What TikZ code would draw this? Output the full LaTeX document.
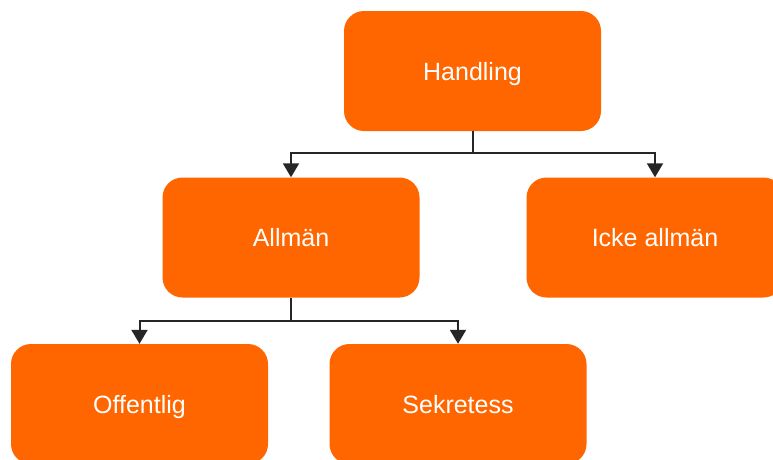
\documentclass[tikz,border=0pt]{standalone}
\usepackage{fontspec}
\setmainfont{Liberation Sans}
\usetikzlibrary{arrows.meta}
\definecolor{boxorange}{HTML}{FF6600}
\tikzset{
  orgbox/.style={rectangle, rounded corners=20pt, fill=boxorange, draw=none,
    minimum width=257pt, minimum height=120pt, inner sep=0pt,
    text height=18pt, text depth=0pt,
    text=white, font=\fontsize{25}{30}\selectfont},
  conn/.style={line width=2pt, draw=black!85, -{Triangle[width=16pt,length=14pt]}}
}
\begin{document}
\begin{tikzpicture}[x=1pt,y=-1pt]
\useasboundingbox (0,0) rectangle (773,459);
\node[orgbox] (hand) at (472.5,71) {Handling};
\node[orgbox] (allm) at (291,237.5) {Allmän};
\node[orgbox] (icke) at (655,237.5) {Icke allmän};
\node[orgbox] (off) at (139.5,404) {Offentlig};
\node[orgbox] (sek) at (458,404) {Sekretess};
\coordinate (j1) at (472.5,153);
\coordinate (j2) at (291,321);
\draw[conn] (hand.south) -- (j1) -| (allm.north);
\draw[conn] (j1) -| (icke.north);
\draw[conn] (allm.south) -- (j2) -| (off.north);
\draw[conn] (j2) -| (sek.north);
\end{tikzpicture}
\end{document}
